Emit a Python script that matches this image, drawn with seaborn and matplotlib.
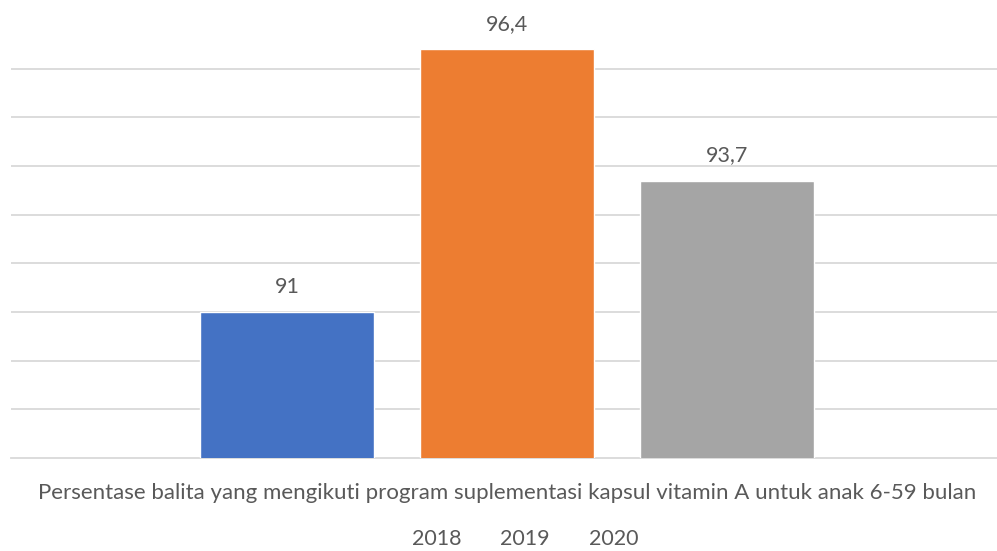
import matplotlib
matplotlib.use("Agg")
import matplotlib.pyplot as plt
import seaborn as sns
import pandas as pd

category = "Persentase balita yang mengikuti program suplementasi kapsul vitamin A untuk anak 6-59 bulan"
years = ["2018", "2019", "2020"]
values = [91, 96.4, 93.7]
colors = ["#4472C4", "#ED7D31", "#A5A5A5"]

df = pd.DataFrame({"kategori": [category] * 3, "tahun": years, "nilai": values})

sns.set_style("white")
plt.rcParams["font.family"] = ["Lato", "DejaVu Sans"]
text_color = "#595959"

fig = plt.figure(figsize=(9.97, 5.51), dpi=100)
ax = fig.add_axes([11 / 997, 1 - 458 / 551, 986 / 997, (458 - 20) / 551])

sns.barplot(data=df, x="kategori", y="nilai", hue="tahun", palette=colors,
            saturation=1, width=0.8, gap=0.21, ax=ax, legend=True, zorder=3)

ax.set_ylim(88, 97)
ax.set_xlim(-0.601, 0.594)
ax.set_yticks(range(89, 97))
ax.yaxis.grid(True, color="#D9D9D9", linewidth=1.3, zorder=0)
ax.tick_params(axis="y", length=0, labelleft=False)
ax.tick_params(axis="x", length=0, labelsize=16, labelcolor=text_color, pad=18)
ax.set_xlabel("")
ax.set_ylabel("")
for s in ["top", "right", "left"]:
    ax.spines[s].set_visible(False)
ax.spines["bottom"].set_color("#D9D9D9")
ax.spines["bottom"].set_linewidth(1.3)

for cont in ax.containers:
    ax.bar_label(cont, labels=[f"{v:g}".replace(".", ",") for v in cont.datavalues],
                 padding=11, fontsize=15.5, color=text_color)

leg = ax.get_legend()
handles = leg.legend_handles
leg.remove()
fig.legend(handles, years, loc="center", bbox_to_anchor=(525 / 997, 1 - 539 / 551),
           ncol=3, frameon=False, handlelength=0, handletextpad=0, columnspacing=1.8,
           borderpad=0, fontsize=15.5, labelcolor=text_color)
for h in handles:
    h.set_visible(False)

fig.savefig("out.png", dpi=100)
